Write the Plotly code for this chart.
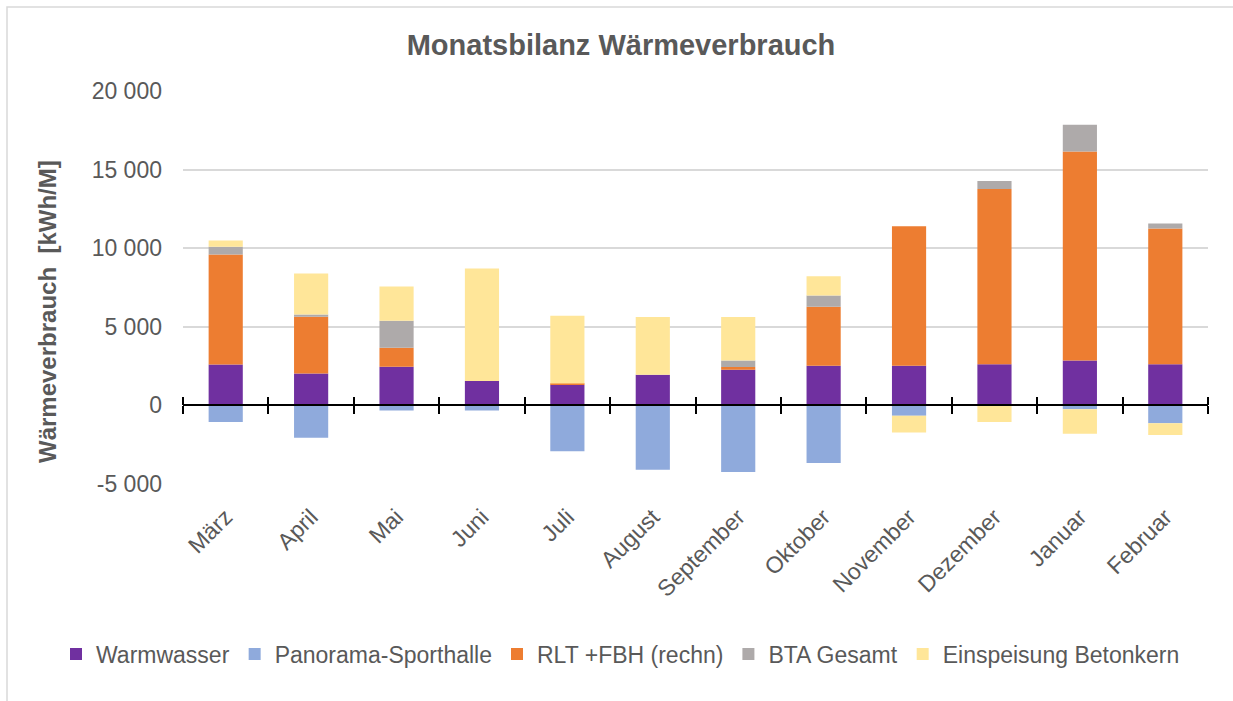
import plotly.graph_objects as go

# Monthly heat balance (kWh per month)
months = ["März", "April", "Mai", "Juni", "Juli", "August", "September",
          "Oktober", "November", "Dezember", "Januar", "Februar"]

warmwasser = [2600, 2030, 2460, 1550, 1310, 1950, 2270, 2520, 2520, 2610, 2860, 2610]
panorama = [-1060, -2050, -320, -320, -2920, -4090, -4240, -3670, -660, 0, -250, -1140]
rlt_fbh = [7000, 3610, 1210, 0, 90, 0, 170, 3750, 8880, 11160, 13290, 8640]
bta_gesamt = [490, 150, 1710, 0, 0, 0, 420, 720, 0, 510, 1710, 320]
betonkern = [400, 2600, 2180, 7160, 4300, 3670, 2760, 1230, -1060, -1060, -1550, -750]

series_names = ["Warmwasser", "Panorama-Sporthalle", "RLT +FBH (rechn)",
                "BTA Gesamt", "Einspeisung Betonkern"]
series_values = [warmwasser, panorama, rlt_fbh, bta_gesamt, betonkern]
series_colors = ["#7030A0", "#8FAADC", "#ED7D31", "#AEAAAA", "#FFE699"]

y_ticks = [-5000, 0, 5000, 10000, 15000, 20000]
y_tick_labels = ["-5 000", "0", "5 000", "10 000", "15 000", "20 000"]
y_range = [-5000, 20000]

FONT = "Liberation Sans, Arial, sans-serif"
TEXT = "#595959"

fig = go.Figure()
for name, vals, col in zip(series_names, series_values, series_colors):
    fig.add_trace(go.Bar(
        x=months, y=vals, name=name,
        marker=dict(color=col, line=dict(width=0)),
        hovertemplate="%{x}: %{y}<extra>" + name + "</extra>",
    ))

# empty traces so the two overlay axes (zero line with crossing ticks) get drawn
for ax in ("x2", "x3"):
    fig.add_trace(go.Scatter(x=[], y=[], xaxis=ax, yaxis="y", mode="lines",
                             showlegend=False, hoverinfo="skip"))

# category boundaries for the tick marks on the zero axis
n = len(months)
boundaries = [i - 0.5 for i in range(n + 1)]
zero_pos = (0 - y_range[0]) / (y_range[1] - y_range[0])

zero_axis = dict(
    overlaying="x", anchor="free", position=zero_pos,
    range=[-0.5, n - 0.5], tickmode="array", tickvals=boundaries,
    showticklabels=False, ticks="outside", ticklen=8, tickwidth=2,
    tickcolor="black", showgrid=False, zeroline=False,
    layer="above traces", fixedrange=True,
)

# plot area in pixels, used to place the frame and free-standing texts
L, R, T, B = 183, 25, 91, 217
W, H = 1233, 701
pw, ph = W - L - R, H - T - B


def px_x(px):
    return (px - L) / pw


def px_y(py):
    return (H - B - py) / ph


fig.update_layout(
    width=W, height=H,
    margin=dict(l=L, r=R, t=T, b=B),
    paper_bgcolor="white", plot_bgcolor="white",
    barmode="relative", bargap=0.6,
    font=dict(family=FONT, color=TEXT, size=23),
    title=dict(text="<b>Monatsbilanz Wärmeverbrauch</b>",
               font=dict(family=FONT, size=29, color=TEXT),
               x=621 / W, xref="container", xanchor="center",
               y=1 - 45 / H, yref="container", yanchor="middle"),
    xaxis=dict(type="category", categoryorder="array", categoryarray=months,
               showline=False, ticks="", showgrid=False, zeroline=False,
               tickangle=-45, tickfont=dict(size=23, color=TEXT),
               ticklabelstandoff=14, fixedrange=True),
    xaxis2=dict(zero_axis, side="bottom", showline=True, linecolor="black", linewidth=2),
    xaxis3=dict(zero_axis, side="top", showline=False),
    yaxis=dict(range=y_range, tickmode="array", tickvals=y_ticks, ticktext=y_tick_labels,
               showgrid=True, gridcolor="#D9D9D9", gridwidth=1.5, zeroline=False,
               showline=False, ticks="", tickfont=dict(size=23, color=TEXT),
               ticklabelstandoff=20, fixedrange=True),
    annotations=[dict(text="<b>Wärmeverbrauch  [kWh/M]</b>", textangle=-90,
                      xref="paper", yref="paper", x=px_x(47), y=px_y(312),
                      xanchor="center", yanchor="middle", showarrow=False,
                      font=dict(family=FONT, size=24, color=TEXT))],
    legend=dict(orientation="h", xref="paper", x=px_x(56), xanchor="left",
                yref="paper", y=px_y(654), yanchor="middle",
                font=dict(size=23, color=TEXT), traceorder="normal",
                itemclick=False, itemdoubleclick=False),
    shapes=[dict(type="rect", xref="paper", yref="paper",
                 x0=px_x(7), x1=px_x(W + 5), y0=px_y(H + 5), y1=px_y(7),
                 line=dict(color="#D9D9D9", width=1.5), layer="below")],
)

fig.write_html("out.html")
